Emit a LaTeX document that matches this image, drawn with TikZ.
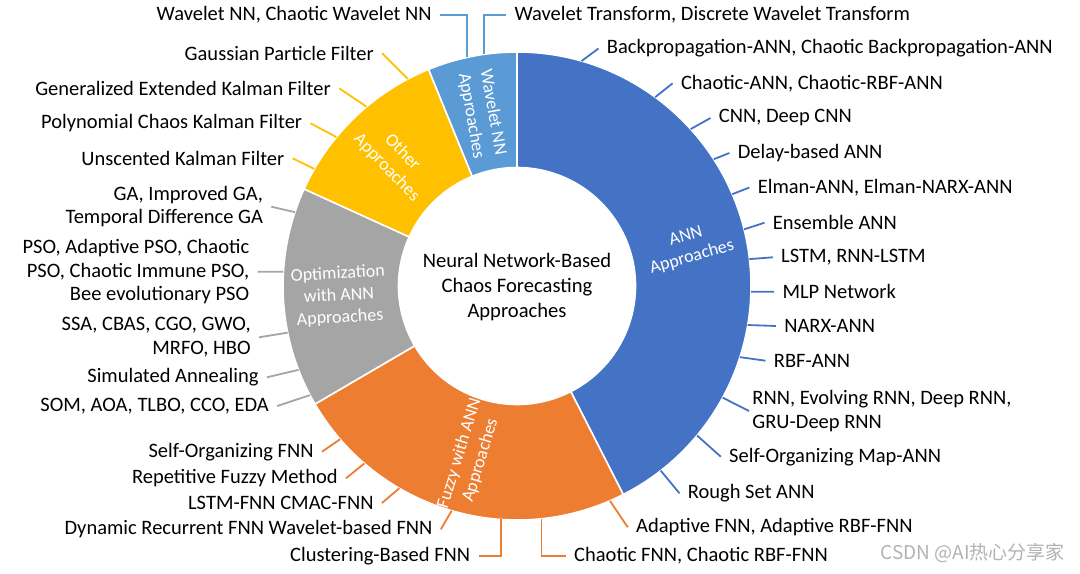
\documentclass[tikz,border=0pt]{standalone}
\usepackage{fontspec}
\setmainfont{Carlito}
\newfontfamily\cjkfont{Noto Sans CJK SC}
\definecolor{annblue}{HTML}{4472C4}
\definecolor{fuzzorange}{HTML}{ED7D31}
\definecolor{optgrey}{HTML}{A5A5A5}
\definecolor{othergold}{HTML}{FFC000}
\definecolor{waveblue}{HTML}{5B9BD5}

\begin{document}
\begin{tikzpicture}[x=0.5pt, y=0.5pt,
  wedge/.style = {draw=white, line width=0.8pt},
  lbl/.style = {font=\fontsize{10.25}{11.75}\selectfont, inner sep=4pt},
  lblr/.style = {lbl, anchor=west, align=left},
  lbll/.style = {lbl, anchor=east, align=right},
  seg/.style = {text=white, font=\fontsize{9}{11}\selectfont, align=center},
  lead/.style = {line width=0.9pt}]
\useasboundingbox (-517,-287) rectangle (563,286);

% the ring
\filldraw[wedge, fill=annblue] (90:234) arc[start angle=90, end angle=-63, radius=234] -- (-63:118.5) arc[start angle=-63, end angle=90, radius=118.5] -- cycle;
\filldraw[wedge, fill=fuzzorange] (-63:234) arc[start angle=-63, end angle=-149.7, radius=234] -- (-149.7:118.5) arc[start angle=-149.7, end angle=-63, radius=118.5] -- cycle;
\filldraw[wedge, fill=optgrey] (210.3:234) arc[start angle=210.3, end angle=155.5, radius=234] -- (155.5:118.5) arc[start angle=155.5, end angle=210.3, radius=118.5] -- cycle;
\filldraw[wedge, fill=othergold] (155.5:234) arc[start angle=155.5, end angle=112.2, radius=234] -- (112.2:118.5) arc[start angle=112.2, end angle=155.5, radius=118.5] -- cycle;
\filldraw[wedge, fill=waveblue] (112.2:234) arc[start angle=112.2, end angle=90, radius=234] -- (90:118.5) arc[start angle=90, end angle=112.2, radius=118.5] -- cycle;

\node[font=\fontsize{10.3}{12.5}\selectfont, align=center] (hub) at (0,-1) {Neural Network-Based\\Chaos Forecasting\\Approaches};

\node[seg, rotate=16] (annlbl) at (172,39) {ANN\\Approaches};
\node[seg, rotate=73] (fuzlbl) at (-47,-171) {Fuzzy with ANN\\Approaches};
\node[seg, rotate=3] (optlbl) at (-178,-10) {Optimization\\with ANN\\Approaches};
\node[seg, rotate=-46] (othlbl) at (-122.5,126) {Other\\Approaches};
\node[seg, rotate=-80] (wavlbl) at (-35,172) {Wavelet NN\\Approaches};

% ANN labels
\coordinate (a1) at (74:234);
\coordinate (a2) at (53.8:234);
\coordinate (a3) at (42.1:234);
\coordinate (a4) at (32.8:234);
\coordinate (a5) at (23.1:234);
\coordinate (a6) at (14:234);
\coordinate (a7) at (6.6:234);
\coordinate (a8) at (-1.4:234);
\coordinate (a9) at (-9.6:234);
\coordinate (a10) at (-17.7:234);
\coordinate (a11) at (-28.5:234);
\coordinate (a12) at (-39.7:234);
\coordinate (a13) at (-52.1:234);
\node[lblr] (bp) at (81.5,237.5) {Backpropagation-ANN, Chaotic Backpropagation-ANN};
\node[lblr] (can) at (155.6,202.7) {Chaotic-ANN, Chaotic-RBF-ANN};
\node[lblr] (cnn) at (193.5,168) {CNN, Deep CNN};
\node[lblr] (dly) at (212.4,133) {Delay-based ANN};
\node[lblr] (elm) at (232.4,98.5) {Elman-ANN, Elman-NARX-ANN};
\node[lblr] (ens) at (247.5,63.3) {Ensemble ANN};
\node[lblr] (lstm) at (255.8,28.7) {LSTM, RNN-LSTM};
\node[lblr] (mlp) at (257.2,-5.7) {MLP Network};
\node[lblr] (narx) at (258.9,-40) {NARX-ANN};
\node[lblr] (rbf) at (248.5,-74.7) {RBF-ANN};
\node[lblr, inner xsep=1.5pt] (rnn) at (232,-125) {RNN, Evolving RNN, Deep RNN,\\GRU-Deep RNN};
\node[lblr] (som) at (203.8,-170.7) {Self-Organizing Map-ANN};
\node[lblr] (rgh) at (162.5,-207.3) {Rough Set ANN};
\draw[lead, annblue] (a1) -- (bp.west);
\draw[lead, annblue] (a2) -- (can.west);
\draw[lead, annblue] (a3) -- (cnn.west);
\draw[lead, annblue] (a4) -- (dly.west);
\draw[lead, annblue] (a5) -- (elm.west);
\draw[lead, annblue] (a6) -- (ens.west);
\draw[lead, annblue] (a7) -- (lstm.west);
\draw[lead, annblue] (a8) -- (mlp.west);
\draw[lead, annblue] (a9) -- (narx.west);
\draw[lead, annblue] (a10) -- (rbf.west);
\draw[lead, annblue] (a11) -- (rnn.west);
\draw[lead, annblue] (a12) -- (som.west);
\draw[lead, annblue] (a13) -- (rgh.west);

% fuzzy labels
\coordinate (f1) at (-66.6:234);
\coordinate (f2) at (-84:234);
\coordinate (f3) at (-93.9:234);
\coordinate (f4) at (-106.2:234);
\coordinate (f5) at (-120.2:234);
\coordinate (f6) at (-130.7:234);
\coordinate (f7) at (-139.1:234);
\node[lblr] (afnn) at (110.8,-241.3) {Adaptive FNN, Adaptive RBF-FNN};
\node[lblr] (cfnn) at (48.8,-270) {Chaotic FNN, Chaotic RBF-FNN};
\node[lbll] (clu) at (-38.4,-270) {Clustering-Based FNN};
\node[lbll] (dyn) at (-76.2,-243.3) {Dynamic Recurrent FNN Wavelet-based FNN};
\node[lbll] (lfnn) at (-135,-217) {LSTM-FNN CMAC-FNN};
\node[lbll] (rep) at (-171,-192.3) {Repetitive Fuzzy Method};
\node[lbll] (sofnn) at (-195,-165.7) {Self-Organizing FNN};
\draw[lead, fuzzorange] (f1) -- (afnn.west);
\draw[lead, fuzzorange] (f2) |- (cfnn.west);
\draw[lead, fuzzorange] (f3) |- (clu.east);
\draw[lead, fuzzorange] (f4) -- (dyn.east);
\draw[lead, fuzzorange] (f5) -- (lfnn.east);
\draw[lead, fuzzorange] (f6) -- (rep.east);
\draw[lead, fuzzorange] (f7) -- (sofnn.east);

% optimization labels
\coordinate (g1) at (207.8:234);
\coordinate (g2) at (201:234);
\coordinate (g3) at (191.5:234);
\coordinate (g4) at (176.5:234);
\coordinate (g5) at (161.6:234);
\node[lbll] (soma) at (-239.8,-120) {SOM, AOA, TLBO, CCO, EDA};
\node[lbll] (sa) at (-250.1,-91.3) {Simulated Annealing};
\node[lbll] (ssa) at (-258,-51.3) {SSA, CBAS, CGO, GWO,\\MRFO, HBO};
\node[lbll] (pso) at (-259.4,14.3) {PSO, Adaptive PSO, Chaotic\\PSO, Chaotic Immune PSO,\\Bee evolutionary PSO};
\node[lbll] (ga) at (-245.7,79.3) {GA, Improved GA,\\Temporal Difference GA};
\draw[lead, optgrey] (g1) -- (soma.east);
\draw[lead, optgrey] (g2) -- (sa.east);
\draw[lead, optgrey] (g3) -- (ssa.east);
\draw[lead, optgrey] (g4) -- (pso.east);
\draw[lead, optgrey] (g5) -- (ga.east);

% other labels
\coordinate (o1) at (150:234);
\coordinate (o2) at (140.5:234);
\coordinate (o3) at (130:234);
\coordinate (o4) at (117.8:234);
\node[lbll] (ukf) at (-224.3,127.7) {Unscented Kalman Filter};
\node[lbll] (pck) at (-206.4,162.7) {Polynomial Chaos Kalman Filter};
\node[lbll] (gek) at (-177.8,197.7) {Generalized Extended Kalman Filter};
\node[lbll] (gpf) at (-134.8,232.7) {Gaussian Particle Filter};
\draw[lead, othergold] (o1) -- (ukf.east);
\draw[lead, othergold] (o2) -- (pck.east);
\draw[lead, othergold] (o3) -- (gek.east);
\draw[lead, othergold] (o4) -- (gpf.east);

% wavelet labels
\coordinate (w1) at (102.3:234);
\coordinate (w2) at (98.2:234);
\node[lbll] (wnn) at (-77,271) {Wavelet NN, Chaotic Wavelet NN};
\node[lblr] (wt) at (-10.8,271) {Wavelet Transform, Discrete Wavelet Transform};
\draw[lead, waveblue] (w1) |- (wnn.east);
\draw[lead, waveblue] (w2) |- (wt.west);

\node[anchor=east, inner sep=0pt, text=black!30, font=\cjkfont\fontsize{9.5}{11}\selectfont] (mark) at (548,-267) {CSDN @AI热心分享家};
\end{tikzpicture}
\end{document}
